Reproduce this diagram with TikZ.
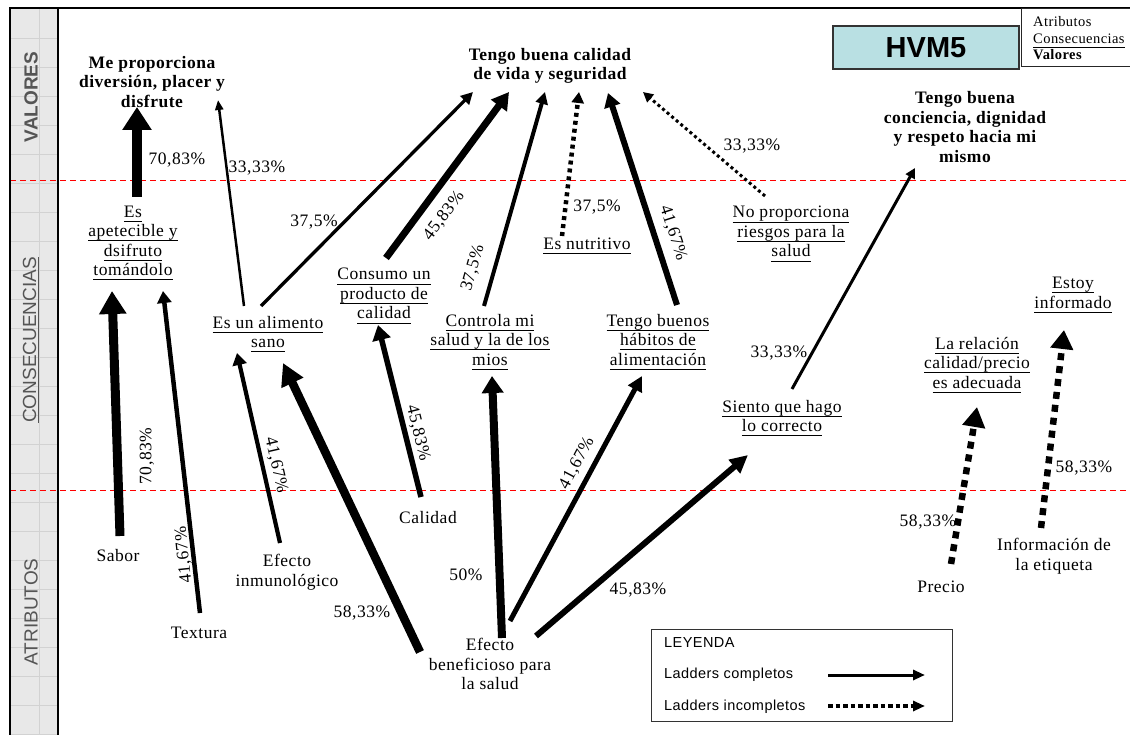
\documentclass[tikz,border=0pt]{standalone}
\usepackage{fontspec}
\setmainfont{Liberation Serif}[LetterSpace=3]
\newfontfamily\lsans{Liberation Sans}
\newfontfamily\lsanswide{Liberation Sans}[LetterSpace=3]
\usetikzlibrary{arrows.meta}
% underline with a fixed depth below the baseline
\newsavebox\ulinebox
\newcommand\undl[2][4.6pt]{\sbox\ulinebox{#2}\rlap{\usebox\ulinebox}\rule[-#1]{\wd\ulinebox}{0.9pt}}
\definecolor{sidefill}{HTML}{E8E8E8}
\definecolor{sidegrid}{HTML}{D2D2D2}
\definecolor{sidetext}{HTML}{555555}
\definecolor{hvmfill}{HTML}{B9E0E3}
\tikzset{
  txt/.style={font=\fontsize{17.5}{19.5}\selectfont, align=center, inner sep=1pt},
  valn/.style={font=\fontsize{17.5}{19.5}\selectfont\bfseries, align=center, inner sep=1pt},
  pct/.style={font=\fontsize{17.5}{19}\selectfont, inner sep=0pt},
  sidelbl/.style={font=\lsans\fontsize{19}{19}\selectfont, text=sidetext, rotate=90, inner sep=0pt},
  keytxt/.style={font=\fontsize{14.5}{16}\selectfont, anchor=base west, inner sep=0pt},
  legtxt/.style={font=\lsanswide\fontsize{14.5}{16}\selectfont, anchor=west, inner sep=0pt},
  lnk/.style n args={3}{line width=#1pt, -{Triangle[length=#2pt,width=#3pt]}},
  dlnk/.style n args={5}{line width=#1pt, dash pattern=on #2pt off #3pt,
                         -{Triangle[length=#4pt,width=#5pt]}},
  levelsep/.style={red, line width=1pt, dash pattern=on 6pt off 4pt},
}
\begin{document}
\begin{tikzpicture}[x=1pt,y=-1pt]
\useasboundingbox (0,0) rectangle (1130,735);

% level column on the left
\fill[sidefill] (10,8) rectangle (58,735);
\foreach \yy in {38,67,...,735} \draw[sidegrid, line width=0.8pt] (10,\yy) -- (58,\yy);
\draw[sidegrid, line width=0.8pt] (39,8) -- (39,735);

% level separators
\draw[levelsep] (10,180.5) -- (1130,180.5);
\draw[levelsep] (10,490.5) -- (1130,490.5);

% frame
\draw[line width=2.7pt] (9,8) -- (1130,8);
\draw[line width=2pt] (10,8) -- (10,735);
\draw[line width=1.8pt] (58,8) -- (58,735);

% level names
\node[sidelbl, font=\lsans\bfseries\fontsize{19}{19}\selectfont] (sv) at (31,97) {VALORES};
\node[sidelbl] (sc) at (31,340) {\undl[3pt]{CONSECUENCIAS}};
\node[sidelbl] (sa) at (31,612) {ATRIBUTOS};

% title and key
\node[draw=black!80, line width=1.5pt, fill=hvmfill, minimum width=186, minimum height=43,
      inner sep=0pt, font=\lsans\bfseries\fontsize{29}{29}\selectfont] (hvm) at (926,47.5) {HVM5};
\node[draw=black!85, line width=1pt, anchor=north west, minimum width=115, minimum height=58,
      inner sep=0pt] (key) at (1021,8) {};
\node[keytxt] (k1) at (1033,27) {Atributos};
\node[keytxt] (k2) at (1033,44) {\undl[3.8pt]{Consecuencias}};
\node[keytxt] (k3) at (1033,60) {\textbf{Valores}};

% values
\node[valn] (v1) at (152,82) {Me proporciona\\diversión, placer y\\disfrute};
\node[valn] (v2) at (550,66) {Tengo buena calidad\\de vida y seguridad};
\node[valn] (v3) at (965,127) {Tengo buena\\conciencia, dignidad\\y respeto hacia mi\\mismo};

% consequences
\node[txt] (c1) at (133,243) {\undl{Es}\\\undl{apetecible y}\\\undl{dsifruto}\\\undl{tomándolo}};
\node[txt] (c2) at (268,334) {\undl{Es un alimento}\\\undl{sano}};
\node[txt] (c3) at (384,296) {\undl{Consumo un}\\\undl{producto de}\\\undl{calidad}};
\node[txt] (c4) at (490,342) {\undl{Controla mi}\\\undl{salud y la de los}\\\undl{mios}};
\node[txt] (c5) at (587,246) {\undl{Es nutritivo}};
\node[txt] (c6) at (658,342) {\undl{Tengo buenos}\\\undl{hábitos de}\\\undl{alimentación}};
\node[txt] (c7) at (791,234) {\undl{No proporciona}\\\undl{riesgos para la}\\\undl{salud}};
\node[txt] (c8) at (782,418) {\undl{Siento que hago}\\\undl{lo correcto}};
\node[txt] (c9) at (977,365) {\undl{La relación}\\\undl{calidad/precio}\\\undl{es adecuada}};
\node[txt] (c10) at (1073,295) {\undl{Estoy}\\\undl{informado}};

% attributes
\node[txt] (a1) at (118,556) {Sabor};
\node[txt] (a2) at (199,633) {Textura};
\node[txt] (a3) at (287,572) {Efecto\\inmunológico};
\node[txt] (a4) at (428,518) {Calidad};
\node[txt] (a5) at (490,664) {Efecto\\beneficioso para\\la salud};
\node[txt] (a6) at (941,587) {Precio};
\node[txt] (a7) at (1054,556) {Información de\\la etiqueta};

% attribute -> consequence links
\draw[lnk={9}{23}{26}]   ([shift={(2,-20)}]a1.center)   -- ([shift={(-21,48)}]c1.center);
\draw[lnk={4.5}{12}{14}] ([shift={(1,-20)}]a2.center)   -- ([shift={(30,48)}]c1.center);
\draw[lnk={4.2}{12}{14}] ([shift={(-7,-29)}]a3.center)  -- ([shift={(-31,19)}]c2.center);
\draw[lnk={8.5}{22}{23}] ([shift={(-70,-12)}]a5.center) -- ([shift={(15,29)}]c2.center);
\draw[lnk={5.5}{15}{18}] ([shift={(-7,-21)}]a4.center)  -- ([shift={(-6,29)}]c3.center);
\draw[lnk={8}{17}{21}]   ([shift={(12,-26)}]a5.center)  -- ([shift={(2,34)}]c4.center);
\draw[lnk={5}{15}{15}]   ([shift={(20,-43)}]a5.center)  -- ([shift={(-16,34)}]c6.center);
\draw[lnk={6}{18}{17}]   ([shift={(46,-28)}]a5.center)  -- ([shift={(-34,37)}]c8.center);
\draw[dlnk={6.5}{7}{6}{20}{22}] ([shift={(10,-23)}]a6.center)  -- ([shift={(0,42)}]c9.center);
\draw[dlnk={6.5}{7}{6}{19}{22}] ([shift={(-13,-28)}]a7.center) -- ([shift={(-9,35)}]c10.center);

% consequence -> value links
\draw[lnk={9.5}{23}{28}] ([shift={(4,-46)}]c1.center)   -- ([shift={(-15,25)}]v1.center);
\draw[lnk={2.5}{10}{8}]  ([shift={(-24,-28)}]c2.center) -- ([shift={(66,18)}]v1.center);
\draw[lnk={3.3}{12}{12}] ([shift={(-7,-28)}]c2.center)  -- ([shift={(-77,26)}]v2.center);
\draw[lnk={7}{17}{19}]   ([shift={(2,-38)}]c3.center)   -- ([shift={(-41,26)}]v2.center);
\draw[lnk={4}{12}{12}]   ([shift={(-6,-36)}]c4.center)  -- ([shift={(-5,26)}]v2.center);
\draw[dlnk={4.5}{4}{4}{11}{12}] ([shift={(-25,-10)}]c5.center) -- ([shift={(29,26)}]v2.center);
\draw[lnk={6}{14}{16}]   ([shift={(19,-37)}]c6.center)  -- ([shift={(58,27)}]v2.center);
\draw[dlnk={3}{3}{3}{10}{10}] ([shift={(-26,-38)}]c7.center) -- ([shift={(93,26)}]v2.center);
\draw[lnk={3}{10}{10}]   ([shift={(10,-29)}]c8.center)  -- ([shift={(-50,41)}]v3.center);

% percentages
\node[pct, rotate=90]  (p1)  at (147,456) {70,83\%};
\node[pct, rotate=96]  (p2)  at (184,555) {41,67\%};
\node[pct, rotate=-77] (p3)  at (276,465) {41,67\%};
\node[pct]             (p4)  at (362,613) {58,33\%};
\node[pct, rotate=-76] (p5)  at (418,433) {45,83\%};
\node[pct]             (p6)  at (466,575) {50\%};
\node[pct, rotate=62]  (p7)  at (577,463) {41,67\%};
\node[pct]             (p8)  at (638,590) {45,83\%};
\node[pct]             (p9)  at (177,160) {70,83\%};
\node[pct]             (p10) at (257,168) {33,33\%};
\node[pct]             (p11) at (314,222) {37,5\%};
\node[pct, rotate=53]  (p12) at (444,216) {45,83\%};
\node[pct, rotate=74]  (p13) at (473,268) {37,5\%};
\node[pct]             (p14) at (597,207) {37,5\%};
\node[pct, rotate=-72] (p15) at (673,233) {41,67\%};
\node[pct]             (p16) at (752,146) {33,33\%};
\node[pct]             (p17) at (779,353) {33,33\%};
\node[pct]             (p18) at (928,522) {58,33\%};
\node[pct]             (p19) at (1084,468) {58,33\%};

% legend
\node[draw=black!80, line width=1pt, anchor=north west, minimum width=301, minimum height=92,
      inner sep=0pt] (leg) at (651,629) {};
\node[legtxt] (l0) at (664,643) {LEYENDA};
\node[legtxt] (l1) at (664,675) {Ladders completos};
\node[legtxt] (l2) at (664,707) {Ladders incompletos};
\coordinate (s1) at (828,675);
\coordinate (e1) at (925,675);
\coordinate (s2) at (828,706);
\coordinate (e2) at (925,706);
\draw[lnk={3}{12}{10}] (s1) -- (e1);
\draw[dlnk={3.5}{4.5}{3}{12}{10}] (s2) -- (e2);
\end{tikzpicture}
\end{document}
